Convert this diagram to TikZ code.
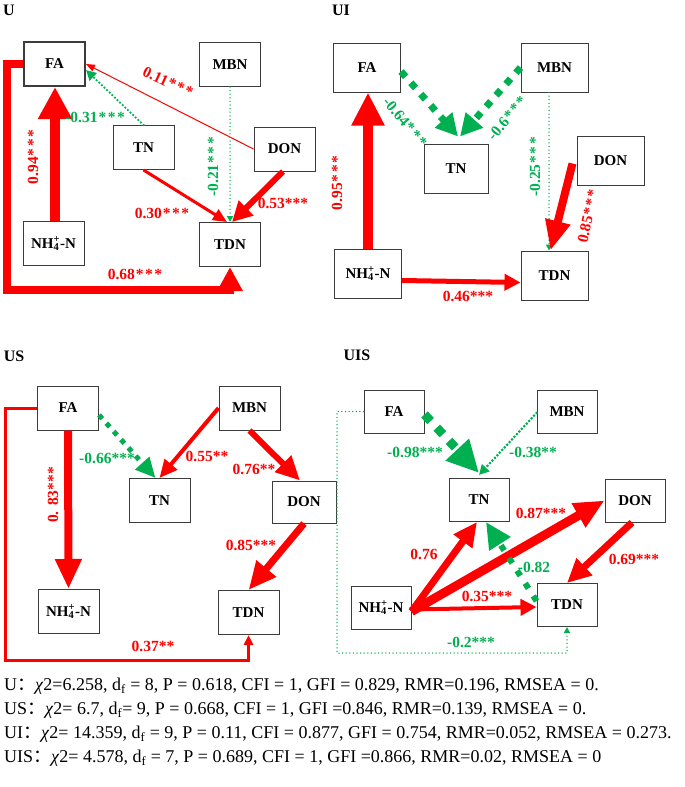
\documentclass[tikz,border=0pt]{standalone}
\usepackage{fontspec}
\setmainfont{Liberation Serif}
\newfontfamily\cjk{Noto Sans CJK SC}
\usetikzlibrary{arrows.meta,calc}
\definecolor{myred}{RGB}{255,0,0}
\definecolor{mygreen}{RGB}{0,176,80}
\definecolor{boxgray}{RGB}{60,60,60}
\newcommand{\nhf}{NH\rlap{\textsubscript{4}}\textsuperscript{+}-N}
\newcommand{\sss}{\kern1pt*\kern1.5pt*\kern1.5pt*}
\begin{document}
\begin{tikzpicture}[x=1pt,y=-1pt,
 box/.style={draw=boxgray,line width=1pt,fill=white,inner sep=0pt,font=\fontsize{15}{15}\selectfont\bfseries},
 boxU/.style={box,minimum width=61pt,minimum height=44pt},
 boxI/.style={box,minimum width=67pt,minimum height=49pt},
 boxS/.style={box,minimum width=61pt,minimum height=44pt},
 boxT/.style={box,minimum width=60pt,minimum height=43pt},
 ttl/.style={font=\fontsize{16}{16}\selectfont\bfseries,inner sep=0pt},
 rlab/.style={text=myred,font=\fontsize{15.5}{15.5}\selectfont\bfseries,inner sep=0pt},
 glab/.style={text=mygreen,font=\fontsize{15.5}{15.5}\selectfont\bfseries,inner sep=0pt},
 rarr/.style={draw=myred,line join=miter},
 gdot/.style={draw=mygreen,line cap=round,dash pattern=on 0pt off 3.6pt},
 gdash/.style={draw=mygreen,line cap=butt},
 stat/.style={anchor=west,inner sep=0pt,font=\fontsize{18}{18}\selectfont}
]
\useasboundingbox (0,0) rectangle (685,787);

% ---------------- titles
\node[ttl] (tU) at (9,10) {U};
\node[ttl] (tUI) at (341,10) {UI};
\node[ttl] (tUS) at (14,356) {US};
\node[ttl] (tUIS) at (357,355) {UIS};

% ---------------- U boxes
\node[boxU,line width=2pt] (uFA) at (54.5,64) {FA};
\node[boxU] (uMBN) at (230,64.5) {MBN};
\node[boxU] (uTN) at (143.5,147.5) {TN};
\node[boxU] (uDON) at (284.5,149) {DON};
\node[boxU] (uNH) at (53.5,243.5) {\nhf};
\node[boxU] (uTDN) at (230,244.5) {TDN};

% ---------------- UI boxes
\node[boxI] (iFA) at (367,67.5) {FA};
\node[boxI] (iMBN) at (554.5,67.5) {MBN};
\node[boxI,minimum width=64pt] (iTN) at (456,168.5) {TN};
\node[boxI] (iDON) at (610.5,160.5) {DON};
\node[boxI] (iNH) at (368,273.5) {\nhf};
\node[boxI] (iTDN) at (554.5,275.5) {TDN};

% ---------------- US boxes
\node[boxS] (sFA) at (68,408) {FA};
\node[boxS] (sMBN) at (249.5,408) {MBN};
\node[boxS] (sTN) at (159.5,500.5) {TN};
\node[boxS,minimum width=64pt,minimum height=42pt] (sDON) at (304,502) {DON};
\node[boxS] (sNH) at (68.5,611.5) {\nhf};
\node[boxS] (sTDN) at (248.5,612.5) {TDN};

% ---------------- UIS boxes
\node[boxT] (tFA) at (394,411.5) {FA};
\node[boxT] (tMBN) at (567,411.5) {MBN};
\node[boxT] (tTN) at (479,500) {TN};
\node[boxT] (tDON) at (635,500.5) {DON};
\node[boxT] (tNH) at (381,607.5) {\nhf};
\node[boxT] (tTDN) at (567,605) {TDN};

% ================= U edges
\draw[rarr,line width=10pt,-{Triangle[width=32pt,length=32pt]}] ([xshift=1.5pt]uNH.north) -- ([xshift=0.5pt]uFA.south);
\coordinate (uB) at (7,290);
\draw[rarr,line width=8pt,-{Triangle[width=24pt,length=24pt]}] (uFA.west) -| (uB) -| (uTDN.south);
\draw[gdot,line width=2.5pt,-{Triangle[width=10pt,length=10pt]}] (uTN.north) -- ([yshift=-6pt]uFA.east);
\draw[rarr,line width=1pt,-{Triangle[width=7pt,length=9pt]}] (uDON.west) -- (uFA.east);
\draw[gdot,line width=1.5pt,-{Triangle[width=6pt,length=6pt]}] (uMBN.south) -- (uTDN.north);
\draw[rarr,line width=3pt,-{Triangle[width=12pt,length=14pt]}] (uTN.south) -- ([xshift=-3pt]uTDN.north);
\draw[rarr,line width=6pt,-{Triangle[width=20pt,length=20pt]}] ([xshift=-1.5pt]uDON.south) -- ([xshift=2pt]uTDN.north);

\node[rlab,rotate=90] (lu1) at (33,157) {0.94\sss};
\node[rlab] (lu2) at (135,274) {0.68\sss};
\node[glab] (lu3) at (95,117) {-0.31\sss};
\node[rlab,rotate=-25] (lu4) at (168,82) {0.11\sss};
\node[glab,rotate=90] (lu5) at (213,167) {-0.21\sss};
\node[rlab] (lu6) at (162,213) {0.30\sss};
\node[rlab] (lu7) at (283,203) {0.53***};

% ================= UI edges
\draw[rarr,line width=10pt,-{Triangle[width=31pt,length=33pt]}] (iNH.north) -- ([xshift=1pt]iFA.south);
\draw[gdash,line width=7pt,dash pattern=on 7pt off 8pt,-{Triangle[width=22pt,length=22pt]}] ([yshift=-4pt]iFA.east) -- ([xshift=2pt,yshift=7pt]iTN.north);
\draw[gdash,line width=7pt,dash pattern=on 7pt off 8pt,-{Triangle[width=22pt,length=22pt]}] (iMBN.west) -- ([xshift=4pt,yshift=7pt]iTN.north);
\draw[gdot,line width=1.5pt,-{Triangle[width=6pt,length=6pt]}] ([xshift=-5.5pt]iMBN.south) -- ([xshift=-5.5pt]iTDN.north);
\draw[rarr,line width=8pt,-{Triangle[width=24pt,length=30pt]}] ([xshift=-4pt,yshift=-3pt]iDON.west) -- ([xshift=-4pt]iTDN.north);
\draw[rarr,line width=5pt,-{Triangle[width=16pt,length=16pt]}] ([yshift=-7pt]iNH.east) -- ([yshift=-7pt]iTDN.west);

\node[rlab,rotate=90] (li1) at (337,183) {0.95\sss};
\node[glab,rotate=-50] (li2) at (405,122) {-0.64\sss};
\node[glab,rotate=50] (li3) at (507,118) {-0.6\sss};
\node[glab,rotate=90] (li4) at (535,167) {-0.25\sss};
\node[rlab,rotate=78] (li5) at (588,216) {0.85\sss};
\node[rlab] (li6) at (468,296) {0.46***};

% ================= US edges
\draw[rarr,line width=8pt,-{Triangle[width=25pt,length=30pt]}] (sFA.south) -- (sNH.north);
\coordinate (sB) at (5,660);
\draw[rarr,line width=3pt,-{Triangle[width=9pt,length=10pt]}] (sFA.west) -| (sB) -| (sTDN.south);
\draw[gdash,line width=5pt,dash pattern=on 5pt off 6pt,-{Triangle[width=18pt,length=20pt]}] ([yshift=-7pt]sFA.east) -- ([xshift=-4pt]sTN.north);
\draw[rarr,line width=4pt,-{Triangle[width=16pt,length=18pt]}] (sMBN.west) -- (sTN.north);
\draw[rarr,line width=6pt,-{Triangle[width=22pt,length=24pt]}] (sMBN.south) -- ([xshift=-4pt]sDON.north);
\draw[rarr,line width=7pt,-{Triangle[width=24pt,length=28pt]}] (sDON.south) -- (sTDN.north);

\node[rlab,rotate=90] (ls1) at (53,495) {0. 83***};
\node[rlab] (ls2) at (153,646) {0.37**};
\node[glab] (ls3) at (107,458) {-0.66***};
\node[rlab] (ls4) at (207,456) {0.55**};
\node[rlab] (ls5) at (254,469) {0.76**};
\node[rlab] (ls6) at (251,545) {0.85***};

% ================= UIS edges
\coordinate (tB) at (337,653);
\draw[gdot,line width=1.5pt,-{Triangle[width=6pt,length=6pt]}] (tFA.west) -| (tB) -| (tTDN.south);
\draw[rarr,line width=7pt,-{Triangle[width=22pt,length=24pt]}] ([yshift=-4pt]tNH.east) -- ([xshift=-2pt]tTN.south);
\draw[rarr,line width=9pt,-{Triangle[width=26pt,length=30pt]}] ([yshift=-4pt]tNH.east) -- (tDON.west);
\draw[rarr,line width=4pt,-{Triangle[width=16pt,length=16pt]}] ([yshift=-2pt]tNH.east) -- ([yshift=-2pt]tTDN.west);
\draw[rarr,line width=7pt,-{Triangle[width=22pt,length=24pt]}] ([xshift=-3pt]tDON.south) -- (tTDN.north);
\draw[gdash,line width=9pt,dash pattern=on 9pt off 9pt,-{Triangle[width=30pt,length=32pt]}] ([yshift=-3pt]tFA.east) -- ([yshift=5pt]tTN.north);
\draw[gdot,line width=3pt,-{Triangle[width=10pt,length=10pt]}] ([yshift=-1.5pt]tMBN.west) -- ([yshift=3pt]tTN.north);
\draw[gdash,line width=6pt,dash pattern=on 6pt off 9pt,-{Triangle[width=24pt,length=26pt]}] ([yshift=4pt]tTDN.west) -- ([xshift=7pt]tTN.south);

\node[glab] (lt1) at (415,452) {-0.98***};
\node[glab] (lt2) at (533,452) {-0.38**};
\node[glab] (lt3) at (471,642) {-0.2***};
\node[rlab] (lt4) at (424,554) {0.76};
\node[rlab] (lt5) at (541,513) {0.87***};
\node[rlab] (lt6) at (487,596) {0.35***};
\node[rlab] (lt7) at (634,559) {0.69***};
\node[glab] (lt8) at (534,567) {-0.82};

% ================= statistics
\node[stat] (stU) at (4,686) {U{\cjk ：}\textit{χ}2=6.258, d\textsubscript{f} = 8, P = 0.618, CFI = 1, GFI = 0.829, RMR=0.196, RMSEA = 0.};
\node[stat] (stUS) at (4,710) {US{\cjk ：}\textit{χ}2= 6.7, d\textsubscript{f}= 9, P = 0.668, CFI = 1, GFI =0.846, RMR=0.139, RMSEA = 0.};
\node[stat] (stUI) at (4,734) {UI{\cjk ：}\textit{χ}2= 14.359, d\textsubscript{f} = 9, P = 0.11, CFI = 0.877, GFI = 0.754, RMR=0.052, RMSEA = 0.273.};
\node[stat] (stUIS) at (4,758) {UIS{\cjk ：}\textit{χ}2= 4.578, d\textsubscript{f} = 7, P = 0.689, CFI = 1, GFI =0.866, RMR=0.02, RMSEA = 0};
\end{tikzpicture}
\end{document}
